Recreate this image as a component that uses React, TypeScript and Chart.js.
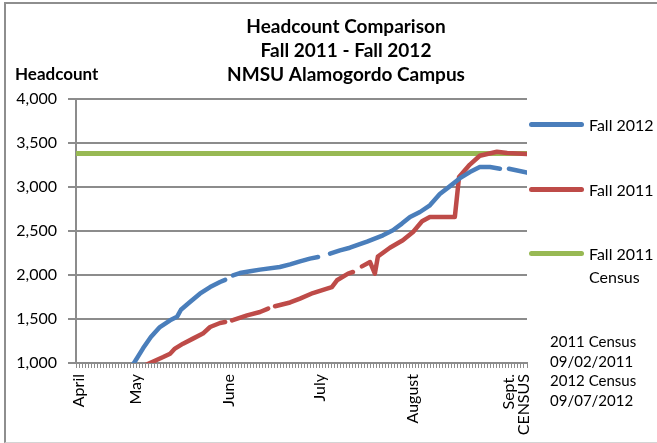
import React, { useEffect, useRef } from "react";
import { Chart, registerables } from "chart.js";

Chart.register(...registerables);

const TITLE_LINES = ["Headcount Comparison", "Fall 2011 - Fall 2012", "NMSU Alamogordo Campus"];
const Y_TITLE = "Headcount";
const MONTH_LABELS: (string | string[])[] = ["April", "May", "June", "July", "August", ["Sept.", "CENSUS"]];
const MONTH_DAYS = [1, 20, 51, 81, 112, 144];
const DAY_COUNT = 150;
const Y_MIN = 1000;
const Y_MAX = 4000;
const Y_STEP = 500;

const SERIES_NAMES = ["Fall 2012", "Fall 2011", "Fall 2011\nCensus"];
const NOTES = ["2011 Census", "09/02/2011", "2012 Census", "09/07/2012"];

// Fall 2012 (blue)
const blueDay = [17, 19.3, 22.3, 24.9, 27.9, 31.3, 33.6, 34.9, 37.9, 41.2, 44.6, 47.9, 49.6, 51, 52.2, 54.5, 57.9, 61.2, 67.8, 71.2, 74.5, 77.8, 80.5, 82, 84.5, 87.8, 91.1, 94.4, 96.8, 102.1, 105.4, 108.4, 111.1, 114.4, 117.7, 121, 124.4, 127.7, 131, 134.3, 137.7, 141, 142.5, 144, 150];
const fall2012 = [900, 1000, 1167, 1295, 1409, 1485, 1525, 1605, 1693, 1788, 1863, 1920, 1945, null, 1996, 2022, 2042, 2061, 2091, 2121, 2155, 2186, 2205, null, 2243, 2280, 2310, 2350, 2380, 2451, 2508, 2584, 2659, 2716, 2792, 2920, 3010, 3100, 3170, 3227, 3227, 3208, null, 3208, 3163];

// Fall 2011 (red)
const redDay = [20, 24.6, 29, 31.3, 32.9, 35.6, 38.9, 42.2, 44.6, 47.9, 49.6, 51, 51.9, 56.9, 61.2, 63.9, 65, 66.2, 71.2, 74.5, 78.8, 83.5, 85.1, 86.8, 90.5, 92.1, 93.5, 95.1, 97.8, 99.4, 100.4, 104.4, 108.7, 112.1, 115.1, 117.7, 126, 127.4, 131, 134.3, 140, 143.4, 150];
const fall2011 = [925, 1000, 1068, 1106, 1164, 1220, 1277, 1334, 1409, 1455, 1466, null, 1485, 1542, 1580, 1618, null, 1645, 1688, 1732, 1795, 1845, 1863, 1940, 2016, 2034, null, 2098, 2147, 2016, 2210, 2310, 2394, 2489, 2610, 2659, 2659, 3113, 3255, 3355, 3400, 3386, 3375];

// Fall 2011 Census (green)
const censusDay = [0, 150];
const census2011 = [3380, 3380];

const COLORS = ["#4A7EBB", "#BE4B48", "#98B954"];
const FONT = "Lato, 'Open Sans', sans-serif";
const GRID = "#8c8c8c";

function pairs(xs: number[], ys: (number | null)[]) {
  return xs.map((x, i) => ({ x, y: ys[i] }));
}

export default function App() {
  const ref = useRef<HTMLCanvasElement | null>(null);

  useEffect(() => {
    if (!ref.current) return;
    const common = {
      borderWidth: 4.5,
      pointRadius: 0,
      pointHoverRadius: 0,
      borderCapStyle: "round",
      borderJoinStyle: "round",
      spanGaps: false,
      tension: 0,
      fill: false,
    };
    const chart = new Chart(ref.current, {
      type: "line",
      data: {
        datasets: [
          { ...common, label: SERIES_NAMES[0], data: pairs(blueDay, fall2012), borderColor: COLORS[0], backgroundColor: COLORS[0] },
          { ...common, label: SERIES_NAMES[1], data: pairs(redDay, fall2011), borderColor: COLORS[1], backgroundColor: COLORS[1] },
          { ...common, label: SERIES_NAMES[2], data: pairs(censusDay, census2011), borderColor: COLORS[2], backgroundColor: COLORS[2], borderWidth: 5, borderCapStyle: "butt" },
        ],
      } as any,
      options: {
        responsive: false,
        animation: false,
        events: [],
        layout: { padding: { left: 0, right: -35, top: 0, bottom: 0 } },
        plugins: {
          legend: { display: false },
          tooltip: { enabled: false },
          title: {
            display: true,
            text: TITLE_LINES,
            color: "#000",
            font: { family: FONT, size: 19, weight: "bold", lineHeight: 24 / 19 },
            padding: { top: 15, bottom: 12 },
          },
        },
        scales: {
          x: {
            type: "linear",
            position: "bottom",
            min: 0,
            max: DAY_COUNT,
            afterBuildTicks: (s: any) => {
              s.ticks = Array.from({ length: DAY_COUNT + 1 }, (_, i) => ({ value: i }));
            },
            afterFit: (s: any) => {
              s.height = 80;
            },
            grid: { drawOnChartArea: false, drawTicks: true, tickLength: 5, color: GRID, lineWidth: 1 },
            border: { color: GRID, width: 2 },
            ticks: {
              autoSkip: false,
              minRotation: 90,
              maxRotation: 90,
              padding: 6,
              color: "#000",
              font: { family: FONT, size: 16, lineHeight: 0.9 },
              callback: (v: any) => {
                const k = MONTH_DAYS.indexOf(Number(v));
                return k >= 0 ? MONTH_LABELS[k] : "";
              },
            },
          },
          y: {
            type: "linear",
            position: "left",
            min: Y_MIN,
            max: Y_MAX,
            afterFit: (s: any) => {
              s.width = 76;
            },
            grid: { color: GRID, lineWidth: 2, tickLength: 8, drawTicks: true },
            border: { color: GRID, width: 2 },
            ticks: {
              stepSize: Y_STEP,
              padding: 11,
              color: "#000",
              font: { family: FONT, size: 16 },
              callback: (v: any) => Number(v).toLocaleString("en-US"),
            },
          },
          spacer: {
            type: "linear",
            position: "right",
            display: true,
            grid: { display: false },
            border: { display: false },
            ticks: { display: false },
            afterFit: (s: any) => {
              s.width = 165;
            },
          },
        },
      } as any,
    });
    return () => chart.destroy();
  }, []);

  const legendY = [124, 189, 253];

  return (
    <div style={{ position: "absolute", left: 0, top: 0, width: 657, height: 443, overflow: "hidden", background: "#fff", fontFamily: FONT }}>
      <canvas ref={ref} width={657} height={443} style={{ position: "absolute", left: 0, top: 0, display: "block" }} />
      <div style={{ position: "absolute", left: 4, top: 2, width: 720, height: 438, borderTop: "2px solid #8e8e8e", borderLeft: "2px solid #8e8e8e", borderBottom: "1px solid #d4d4d4", pointerEvents: "none" }} />
      <div style={{ position: "absolute", left: 15, top: 63, fontSize: 17, fontWeight: "bold", lineHeight: "22px", color: "#000" }}>{Y_TITLE}</div>
      {SERIES_NAMES.map((name, i) => (
        <React.Fragment key={name}>
          <div style={{ position: "absolute", left: 529, top: legendY[i] - 2.5, width: 55, height: 5, borderRadius: 3, background: COLORS[i] }} />
          <div style={{ position: "absolute", left: 589, top: legendY[i] - 11.5, fontSize: 16, lineHeight: "23px", color: "#000", whiteSpace: "pre" }}>{name}</div>
        </React.Fragment>
      ))}
      <div style={{ position: "absolute", left: 550, top: 332, fontSize: 15, lineHeight: "19.5px", color: "#000" }}>
        {NOTES.map((n) => (
          <div key={n}>{n}</div>
        ))}
      </div>
    </div>
  );
}
